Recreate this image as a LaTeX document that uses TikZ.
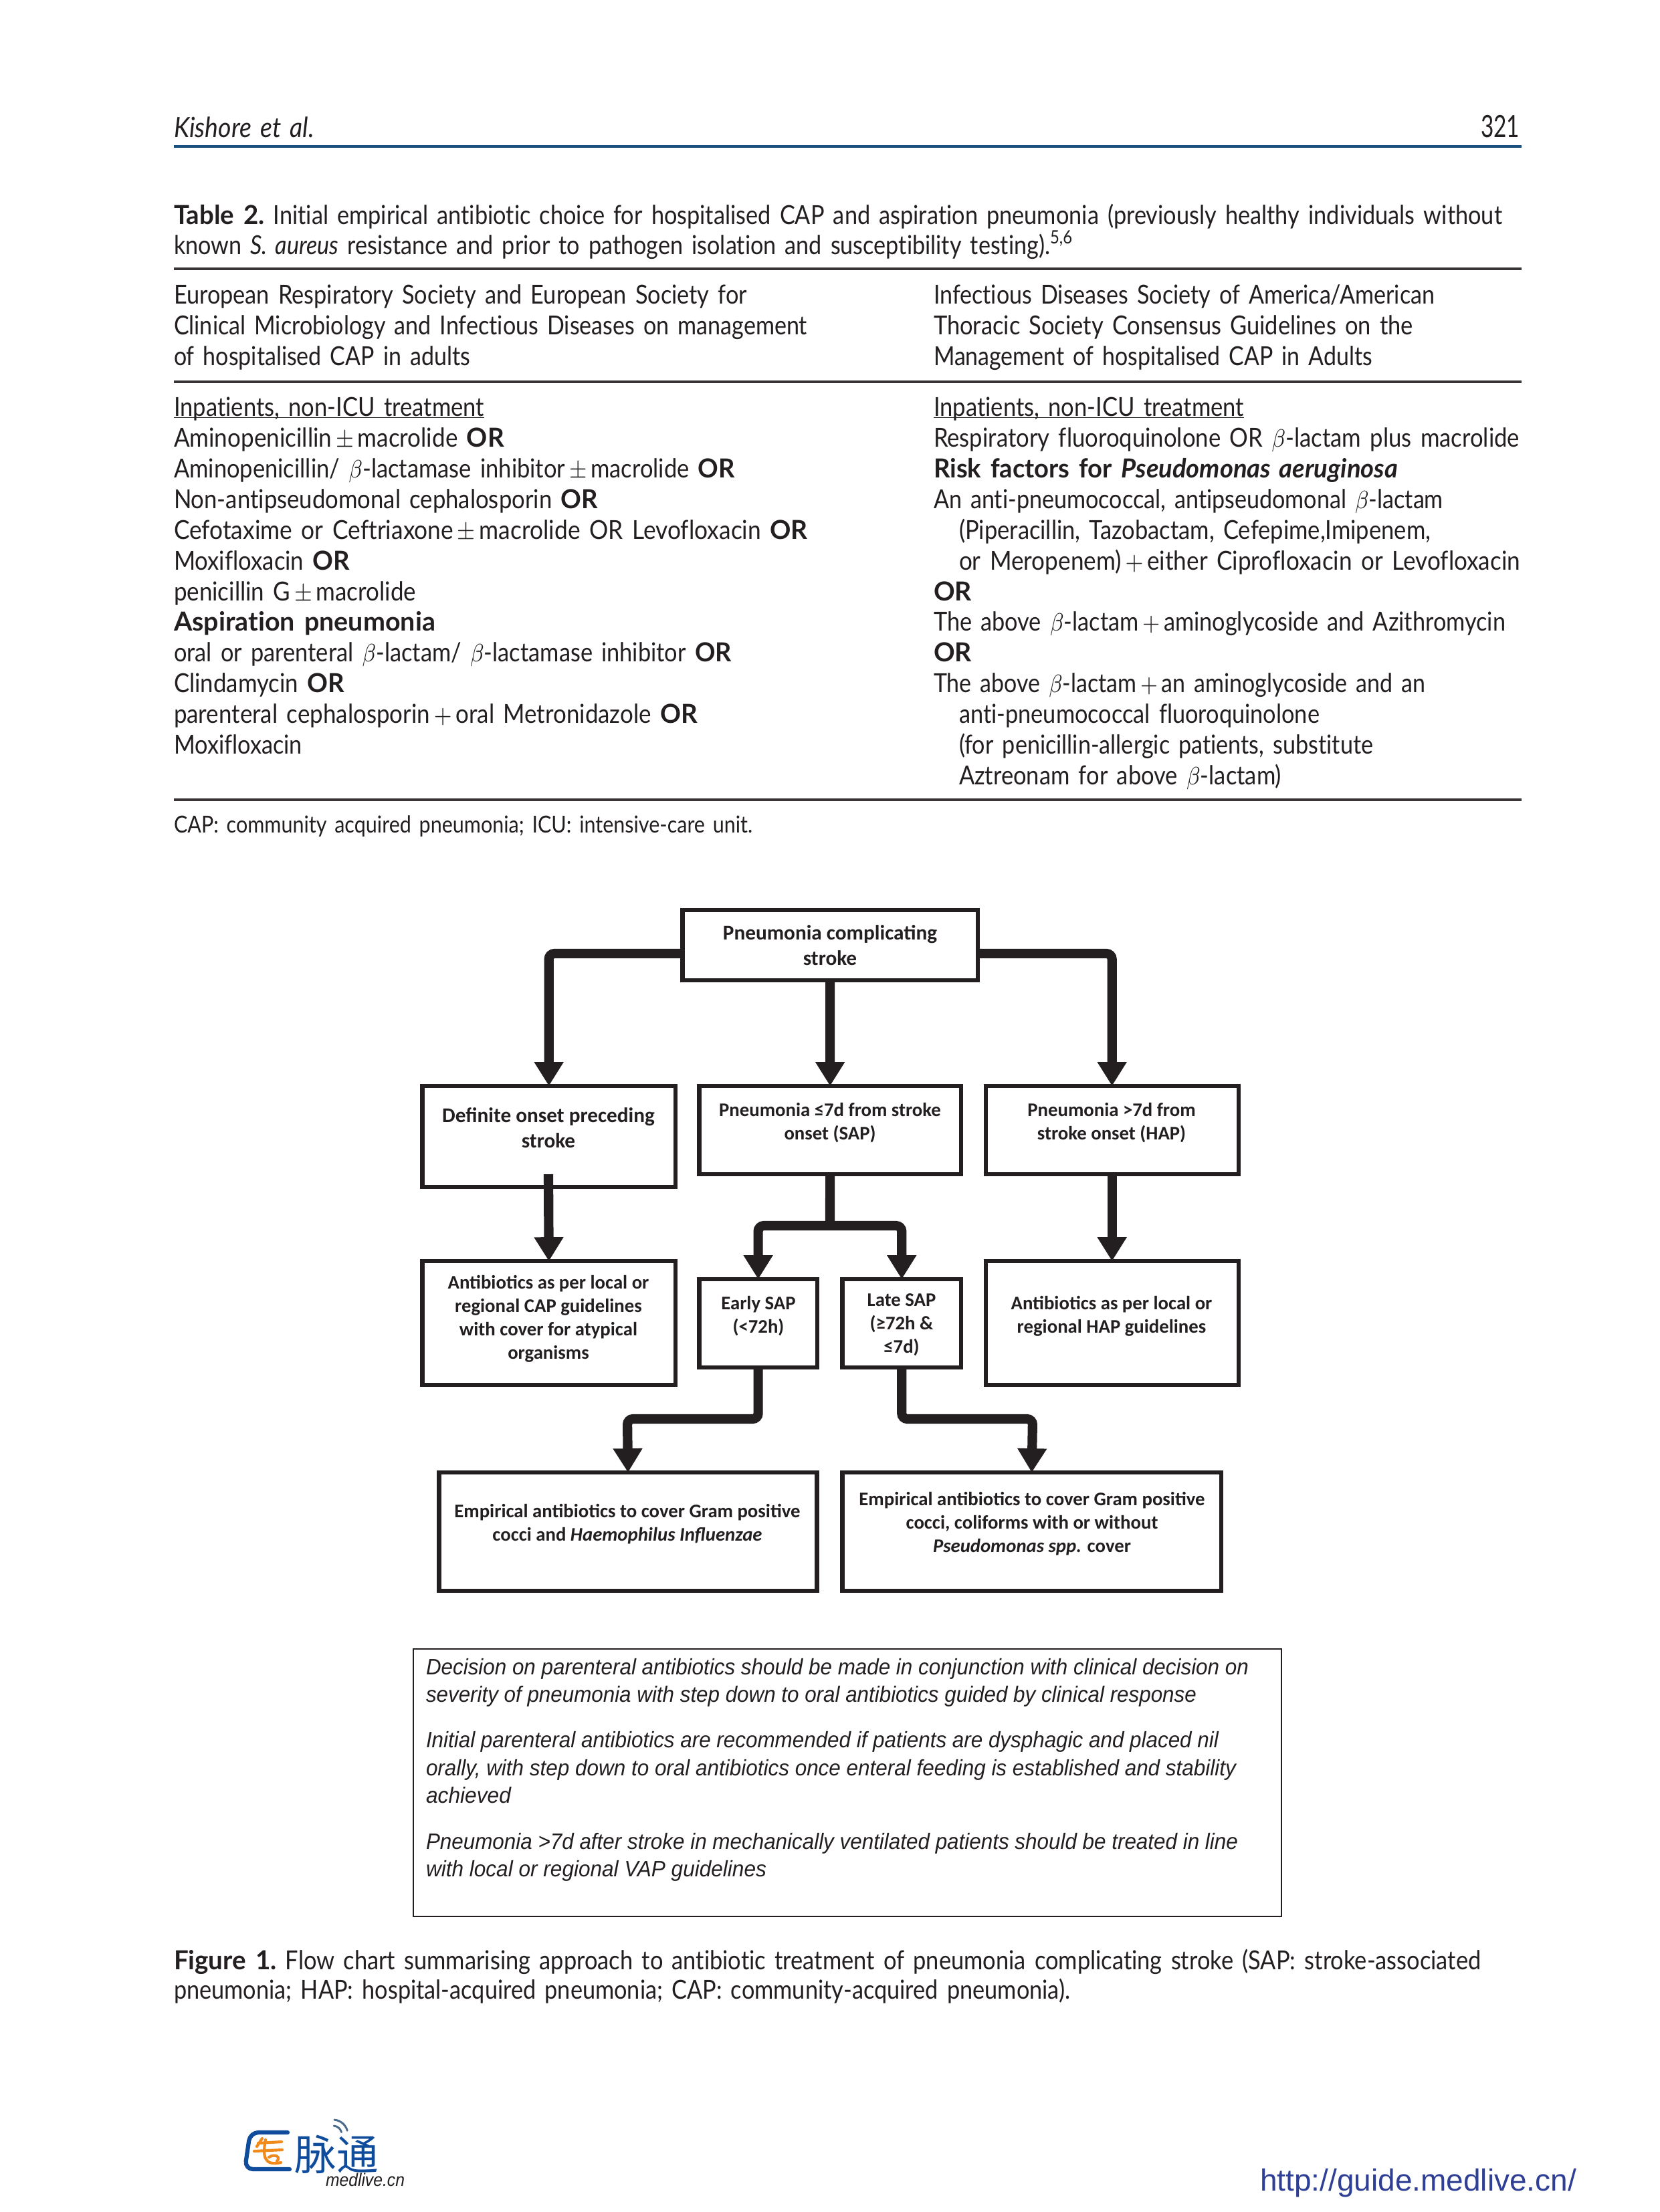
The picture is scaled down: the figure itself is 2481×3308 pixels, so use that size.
\documentclass[tikz,border=0pt]{standalone}
\usepackage{fontspec}
\usepackage{graphicx}
\usetikzlibrary{arrows.meta}
\setmainfont{Lato}[WordSpace=1.5,Ligatures=CommonOff]
\newfontfamily\boxfont{Carlito}
\newfontfamily\notefont{Liberation Sans}
\newfontfamily\cjkfont{Noto Sans CJK SC}
\definecolor{ink}{HTML}{231F20}
\definecolor{headblue}{HTML}{1B4F7E}
\definecolor{urlblue}{HTML}{2E3F95}
\definecolor{logoblue}{HTML}{0F4C9C}
\definecolor{logoorange}{HTML}{F08A1D}
\definecolor{logogrey}{HTML}{4A6A8C}
\newcount\lnum
% \tl[font]{x0}{x1}{baseline y}{text}: a line of text fitted between two x positions
\newcommand\tl[5][\bodyfont]{\global\advance\lnum by 1
  \node[pline] (t\the\lnum) at (#2,#4) {#1\resizebox{\dimexpr#3pt*24/100-#2pt*24/100\relax}{\height}{#5}};}
\newcommand\bodyfont{\fontsize{9.4}{11}\selectfont}
\newcommand\smallbody{\fontsize{8.4}{10}\selectfont}
\newcommand\notesize{\notefont\itshape\fontsize{8}{10}\selectfont}
\newcommand\OR{\scalebox{1.1}[1]{\textbf{OR}}}
\newcommand\bt{$\beta$}
\newcommand\ulin[1]{\setbox0\hbox{#1}\rlap{\rule[-0.8pt]{\wd0}{0.35pt}}\box0}
\tikzset{
  pline/.style={anchor=base west,inner sep=0pt,outer sep=0pt,text=ink},
  rulel/.style={line width=1.1pt,ink!90},
  fbox/.style={draw=ink,line width=1.45pt,fill=white,inner sep=0pt,outer sep=0pt,anchor=north west},
  ftext/.style={font=\boxfont\bfseries\fontsize{6.9}{8.4}\selectfont,align=center,inner sep=0pt,text=ink},
  fbig/.style={font=\boxfont\bfseries\fontsize{7.5}{9.1}\selectfont},
  flow/.style={draw=ink,line width=3.4pt,rounded corners=2pt,-{Triangle[length=8.6pt,width=10pt]}},
  stem/.style={draw=ink,line width=3.4pt,rounded corners=2pt},
  logoline/.style={draw=logoorange,line width=1pt,line cap=round},
  wifi/.style={draw=logogrey,line width=0.7pt,line cap=round}
}
\begin{document}
\begin{tikzpicture}[x=0.24pt,y=-0.24pt]
\useasboundingbox (0,0) rectangle (2481,3308);
\fill[white] (0,0) rectangle (2481,3308);

% running head
\tl[\itshape\fontsize{10}{12}\selectfont]{260}{470}{206}{Kishore et al.}
\tl[\fontsize{11}{13}\selectfont]{2214}{2272}{206}{321}
\coordinate (hl) at (260,219); \coordinate (hr) at (2275,219);
\draw[headblue,line width=0.8pt] (hl) -- (hr);

% table title
\tl{260}{2246}{336}{\scalebox{1.12}[1]{\textbf{Table 2.}} Initial empirical antibiotic choice for hospitalised CAP and aspiration pneumonia (previously healthy individuals without}
\tl{260}{1605}{380}{known \textit{S. aureus} resistance and prior to pathogen isolation and susceptibility testing).\textsuperscript{5,6}}
\coordinate (r1l) at (260,402); \coordinate (r1r) at (2275,402);
\draw[rulel] (r1l) -- (r1r);

% table head
\tl{260}{1117}{455}{European Respiratory Society and European Society for}
\tl{260}{1207}{501}{Clinical Microbiology and Infectious Diseases on management}
\tl{260}{703}{547}{of hospitalised CAP in adults}
\tl{1396}{2145}{455}{Infectious Diseases Society of America/American}
\tl{1396}{2113}{501}{Thoracic Society Consensus Guidelines on the}
\tl{1396}{2052}{547}{Management of hospitalised CAP in Adults}
\coordinate (r2l) at (260,571); \coordinate (r2r) at (2275,571);
\draw[rulel] (r2l) -- (r2r);

% left column
\tl{260}{724}{622}{\ulin{Inpatients, non-ICU treatment}}
\tl{260}{754}{668}{Aminopenicillin\,$\pm$\,macrolide \OR}
\tl{260}{1099}{714}{Aminopenicillin/ \bt-lactamase inhibitor\,$\pm$\,macrolide \OR}
\tl{260}{894}{760}{Non-antipseudomonal cephalosporin \OR}
\tl{260}{1208}{806}{Cefotaxime or Ceftriaxone\,$\pm$\,macrolide OR Levofloxacin \OR}
\tl{260}{523}{852}{Moxifloxacin \OR}
\tl{260}{622}{898}{penicillin G\,$\pm$\,macrolide}
\tl{260}{651}{943}{\textbf{Aspiration pneumonia}}
\tl{260}{1094}{989}{oral or parenteral \bt-lactam/ \bt-lactamase inhibitor \OR}
\tl{260}{515}{1035}{Clindamycin \OR}
\tl{260}{1043}{1081}{parenteral cephalosporin\,$+$\,oral Metronidazole \OR}
\tl{260}{452}{1127}{Moxifloxacin}

% right column
\tl{1396}{1860}{622}{\ulin{Inpatients, non-ICU treatment}}
\tl{1396}{2272}{668}{Respiratory fluoroquinolone OR \bt-lactam plus macrolide}
\tl{1396}{2090}{714}{\textbf{Risk factors for \textit{Pseudomonas aeruginosa}}}
\tl{1396}{2158}{760}{An anti-pneumococcal, antipseudomonal \bt-lactam}
\tl{1434}{2139}{806}{(Piperacillin, Tazobactam, Cefepime,Imipenem,}
\tl{1434}{2273}{852}{or Meropenem)\,$+$\,either Ciprofloxacin or Levofloxacin}
\tl{1396}{1453}{898}{\OR}
\tl{1396}{2251}{943}{The above \bt-lactam\,$+$\,aminoglycoside and Azithromycin}
\tl{1396}{1453}{989}{\OR}
\tl{1396}{2131}{1035}{The above \bt-lactam\,$+$\,an aminoglycoside and an}
\tl{1434}{1973}{1081}{anti-pneumococcal fluoroquinolone}
\tl{1434}{2053}{1127}{(for penicillin-allergic patients, substitute}
\tl{1434}{1916}{1173}{Aztreonam for above \bt-lactam)}
\coordinate (r3l) at (260,1196); \coordinate (r3r) at (2275,1196);
\draw[rulel] (r3l) -- (r3r);
\tl[\smallbody]{260}{1125}{1245}{CAP: community acquired pneumonia; ICU: intensive-care unit.}

% flow chart boxes
\node[fbox,minimum width=105.9pt,minimum height=25.2pt] (top) at (1020.5,1361) {};
\node[fbox,minimum width=90.8pt,minimum height=36.2pt] (def) at (631.5,1624) {};
\node[fbox,minimum width=93.9pt,minimum height=31.7pt] (sap) at (1045.5,1624) {};
\node[fbox,minimum width=90.8pt,minimum height=31.7pt] (hap) at (1473.5,1624) {};
\node[fbox,minimum width=90.8pt,minimum height=44.4pt] (capa) at (631.5,1886) {};
\node[fbox,minimum width=42.3pt,minimum height=31.7pt] (early) at (1045.5,1913) {};
\node[fbox,minimum width=42.6pt,minimum height=31.7pt] (late) at (1259.5,1913) {};
\node[fbox,minimum width=90.8pt,minimum height=44.4pt] (hapa) at (1473.5,1886) {};
\node[fbox,minimum width=135.6pt,minimum height=42.5pt] (emp1) at (656.5,2202) {};
\node[fbox,minimum width=135.9pt,minimum height=42.4pt] (emp2) at (1259.5,2202) {};

% flow chart labels
\node[ftext,fbig] (ttop) at (1241,1414) {Pneumonia complicating\\stroke};
\node[ftext,fbig] (tdef) at (820,1687) {Definite onset preceding\\stroke};
\node[ftext] (tsap) at (1241,1679) {Pneumonia ≤7d from stroke\\onset (SAP)};
\node[ftext] (thap) at (1662,1679) {Pneumonia >7d from\\stroke onset (HAP)};
\node[ftext] (tcapa) at (820,1972) {Antibiotics as per local or\\regional CAP guidelines\\with cover for atypical\\organisms};
\node[ftext] (tearly) at (1134,1968) {Early SAP\\(<72h)};
\node[ftext] (tlate) at (1348,1981) {Late SAP\\(≥72h \&\\≤7d)};
\node[ftext] (thapa) at (1662,1968) {Antibiotics as per local or\\regional HAP guidelines};
\node[ftext] (temp1) at (938,2279) {Empirical antibiotics to cover Gram positive\\cocci and \textit{Haemophilus Influenzae}};
\node[ftext] (temp2) at (1543,2279) {Empirical antibiotics to cover Gram positive\\cocci, coliforms with or without\\\textit{Pseudomonas spp.} cover};

% flow chart connectors
\coordinate (jmid) at (1241,1833);
\coordinate (defin) at (820,1756);
\coordinate (jearly) at (938,2122);
\coordinate (jlate) at (1544,2122);
\coordinate (topl) at (1022,1426);
\coordinate (topr) at (1460,1426);
\draw[flow] (topl) -| (def.north);
\draw[flow] (topr) -| (hap.north);
\draw[flow] (top.south) -- (sap.north);
\draw[flow] (defin) -- (capa.north);
\draw[flow] (hap.south) -- (hapa.north);
\draw[stem] (sap.south) -- (jmid);
\draw[flow] (jmid) -| (early.north);
\draw[flow] (jmid) -| (late.north);
\draw[flow] (early.south) |- (jearly) -- (emp1.north);
\draw[flow] (late.south) |- (jlate) -- (emp2.north);

% notes box
\node[draw=ink,line width=0.45pt,inner sep=0pt,outer sep=0pt,anchor=north west,minimum width=311.5pt,minimum height=96pt] (notes) at (618,2466) {};
\tl[\notesize]{637}{1867}{2504}{Decision on parenteral antibiotics should be made in conjunction with clinical decision on}
\tl[\notesize]{637}{1789}{2545}{severity of pneumonia with step down to oral antibiotics guided by clinical response}
\tl[\notesize]{637}{1822}{2613}{Initial parenteral antibiotics are recommended if patients are dysphagic and placed nil}
\tl[\notesize]{637}{1848}{2655}{orally, with step down to oral antibiotics once enteral feeding is established and stability}
\tl[\notesize]{637}{764}{2696}{achieved}
\tl[\notesize]{637}{1851}{2765}{Pneumonia >7d after stroke in mechanically ventilated patients should be treated in line}
\tl[\notesize]{637}{1146}{2806}{with local or regional VAP guidelines}

% figure caption
\tl{260}{2214}{2945}{\scalebox{1.12}[1]{\textbf{Figure 1.}} Flow chart summarising approach to antibiotic treatment of pneumonia complicating stroke (SAP: stroke-associated}
\tl{260}{1600}{2989}{pneumonia; HAP: hospital-acquired pneumonia; CAP: community-acquired pneumonia).}

% footer logo: bracket and orange strokes, then the blue characters
\draw[logoblue,line width=1.5pt,line join=round,line cap=round,rounded corners=3pt] (430,3189) -- (374,3189) -- (366,3244) -- (433,3244);
\draw[logoline] (386,3205) -- (421,3203);
\draw[logoline] (380,3217) -- (422,3215);
\draw[logoline] (392,3198) -- (384,3210);
\draw[logoline] (397,3200) .. controls (393,3222) and (393,3240) .. (420,3234);
\draw[logoline] (402,3226) .. controls (412,3220) and (420,3226) .. (414,3232);
\node[anchor=base west,inner sep=0pt,text=logoblue,font=\cjkfont\fontsize{15}{17}\selectfont] (logo) at (440,3245) {脉通};
\coordinate (wc) at (498,3192);
\draw[wifi] (wc) ++(-15:13) arc[start angle=-15,end angle=-85,radius=13];
\draw[wifi] (wc) ++(-15:22) arc[start angle=-15,end angle=-85,radius=22];
\tl[\notefont\itshape\fontsize{6.5}{8}\selectfont]{487}{605}{3269}{medlive.cn}
\tl[\notefont\fontsize{11}{13}\selectfont\color{urlblue}]{1884}{2357}{3276}{http://guide.medlive.cn/}
\end{tikzpicture}
\end{document}
